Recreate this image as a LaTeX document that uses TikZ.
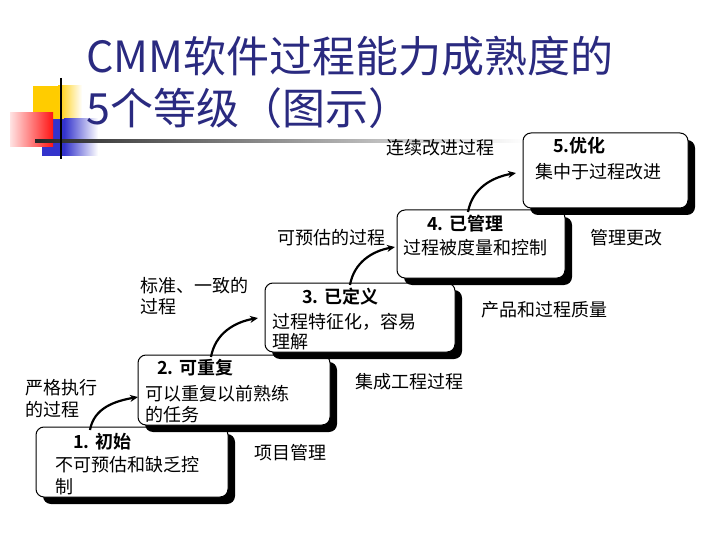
\documentclass[tikz,border=0pt]{standalone}
\usepackage{fontspec}
\setmainfont{Noto Sans CJK SC}[BoldFont={Noto Sans CJK SC Bold}]
\usetikzlibrary{arrows.meta,shadows}
\definecolor{navy}{RGB}{42,42,128}
\definecolor{yl}{RGB}{255,204,0}
\definecolor{bl}{RGB}{51,51,204}
\definecolor{rd}{RGB}{255,20,20}
\tikzset{
  box/.style={draw, line width=1pt, rounded corners=8pt, fill=white,
    anchor=north west, inner sep=0pt, outer sep=0pt,
    drop shadow={shadow xshift=7pt, shadow yshift=-7pt, opacity=1, fill=black}},
  txt/.style={anchor=west, inner sep=0pt, font=\fontsize{18}{21}\selectfont},
  ttl/.style={anchor=west, inner sep=0pt, font=\bfseries\fontsize{18}{21}\selectfont},
  arr/.style={line width=2.2pt, -{Stealth[length=8pt,width=7pt]}},
  titlef/.style={anchor=west, inner sep=0pt, text=navy, font=\fontsize{43}{48}\selectfont}
}
\begin{document}
\begin{tikzpicture}[x=1pt,y=1pt]
\useasboundingbox (0,0) rectangle (720,-540);
\fill[white] (0,0) rectangle (720,-540);
% decoration
\fill[yl] (33,-86) rectangle (58,-119);
\shade[left color=yl, right color=white] (58,-86) rectangle (82,-119);
\fill[bl] (42,-119) rectangle (64,-156);
\shade[left color=bl, right color=white] (64,-119) rectangle (98,-156);
\shade[left color=rd!12, right color=rd] (10,-113) rectangle (53,-147);
\shade[left color=black!85, right color=white] (35,-139.5) rectangle (525,-142.5);
\draw[line width=2pt] (61,-78) -- (61,-159);
% title
\node[titlef] (title1) at (86,-56) {CMM软件过程能力成熟度的};
\node[titlef] (title2) at (86,-108) {5个等级（图示）};
% boxes
\node[box, minimum width=192pt, minimum height=70pt] (b1) at (36,-427) {};
\node[box, minimum width=192pt, minimum height=70pt] (b2) at (138,-355) {};
\node[box, minimum width=190pt, minimum height=69pt] (b3) at (265,-283) {};
\node[box, minimum width=168pt, minimum height=68pt] (b4) at (397,-210) {};
\node[box, minimum width=165pt, minimum height=75pt] (b5) at (523,-133) {};
% box texts
\node[ttl] (t1) at (73,-442) {1. 初始};
\node[txt] (t1a) at (55,-465) {不可预估和缺乏控};
\node[txt] (t1b) at (55,-487) {制};
\node[ttl] (t2) at (157,-368) {2. 可重复};
\node[txt] (t2a) at (145,-394) {可以重复以前熟练};
\node[txt] (t2b) at (145,-415) {的任务};
\node[ttl] (t3) at (302,-297) {3. 已定义};
\node[txt] (t3a) at (272,-322) {过程特征化，容易};
\node[txt] (t3b) at (272,-342) {理解};
\node[ttl] (t4) at (427,-224) {4. 已管理};
\node[txt] (t4a) at (403,-248) {过程被度量和控制};
\node[ttl] (t5) at (553,-146) {5.优化};
\node[txt] (t5a) at (535,-172) {集中于过程改进};
% side labels
\node[txt] (l1a) at (25,-388) {严格执行};
\node[txt] (l1b) at (25,-410) {的过程};
\node[txt] (l2a) at (140,-286) {标准、一致的};
\node[txt] (l2b) at (140,-307) {过程};
\node[txt] (l3) at (277,-238) {可预估的过程};
\node[txt] (l4) at (386,-148) {连续改进过程};
\node[txt] (r1) at (254,-453) {项目管理};
\node[txt] (r2) at (355,-382) {集成工程过程};
\node[txt] (r3) at (481,-310) {产品和过程质量};
\node[txt] (r4) at (590,-238) {管理更改};
% arrows
\draw[arr] ([xshift=54pt,yshift=-3pt]b1.north west) to[out=80,in=190] ([yshift=-42pt]b2.north west);
\draw[arr] ([xshift=73pt,yshift=-2pt]b2.north west) to[out=80,in=190] ([xshift=-7pt,yshift=-35pt]b3.north west);
\draw[arr] ([xshift=85pt,yshift=-2pt]b3.north west) to[out=80,in=190] ([xshift=-2pt,yshift=-37pt]b4.north west);
\draw[arr] ([xshift=71pt,yshift=-2pt]b4.north west) to[out=80,in=190] ([xshift=-7pt,yshift=-40pt]b5.north west);
\end{tikzpicture}
\end{document}
